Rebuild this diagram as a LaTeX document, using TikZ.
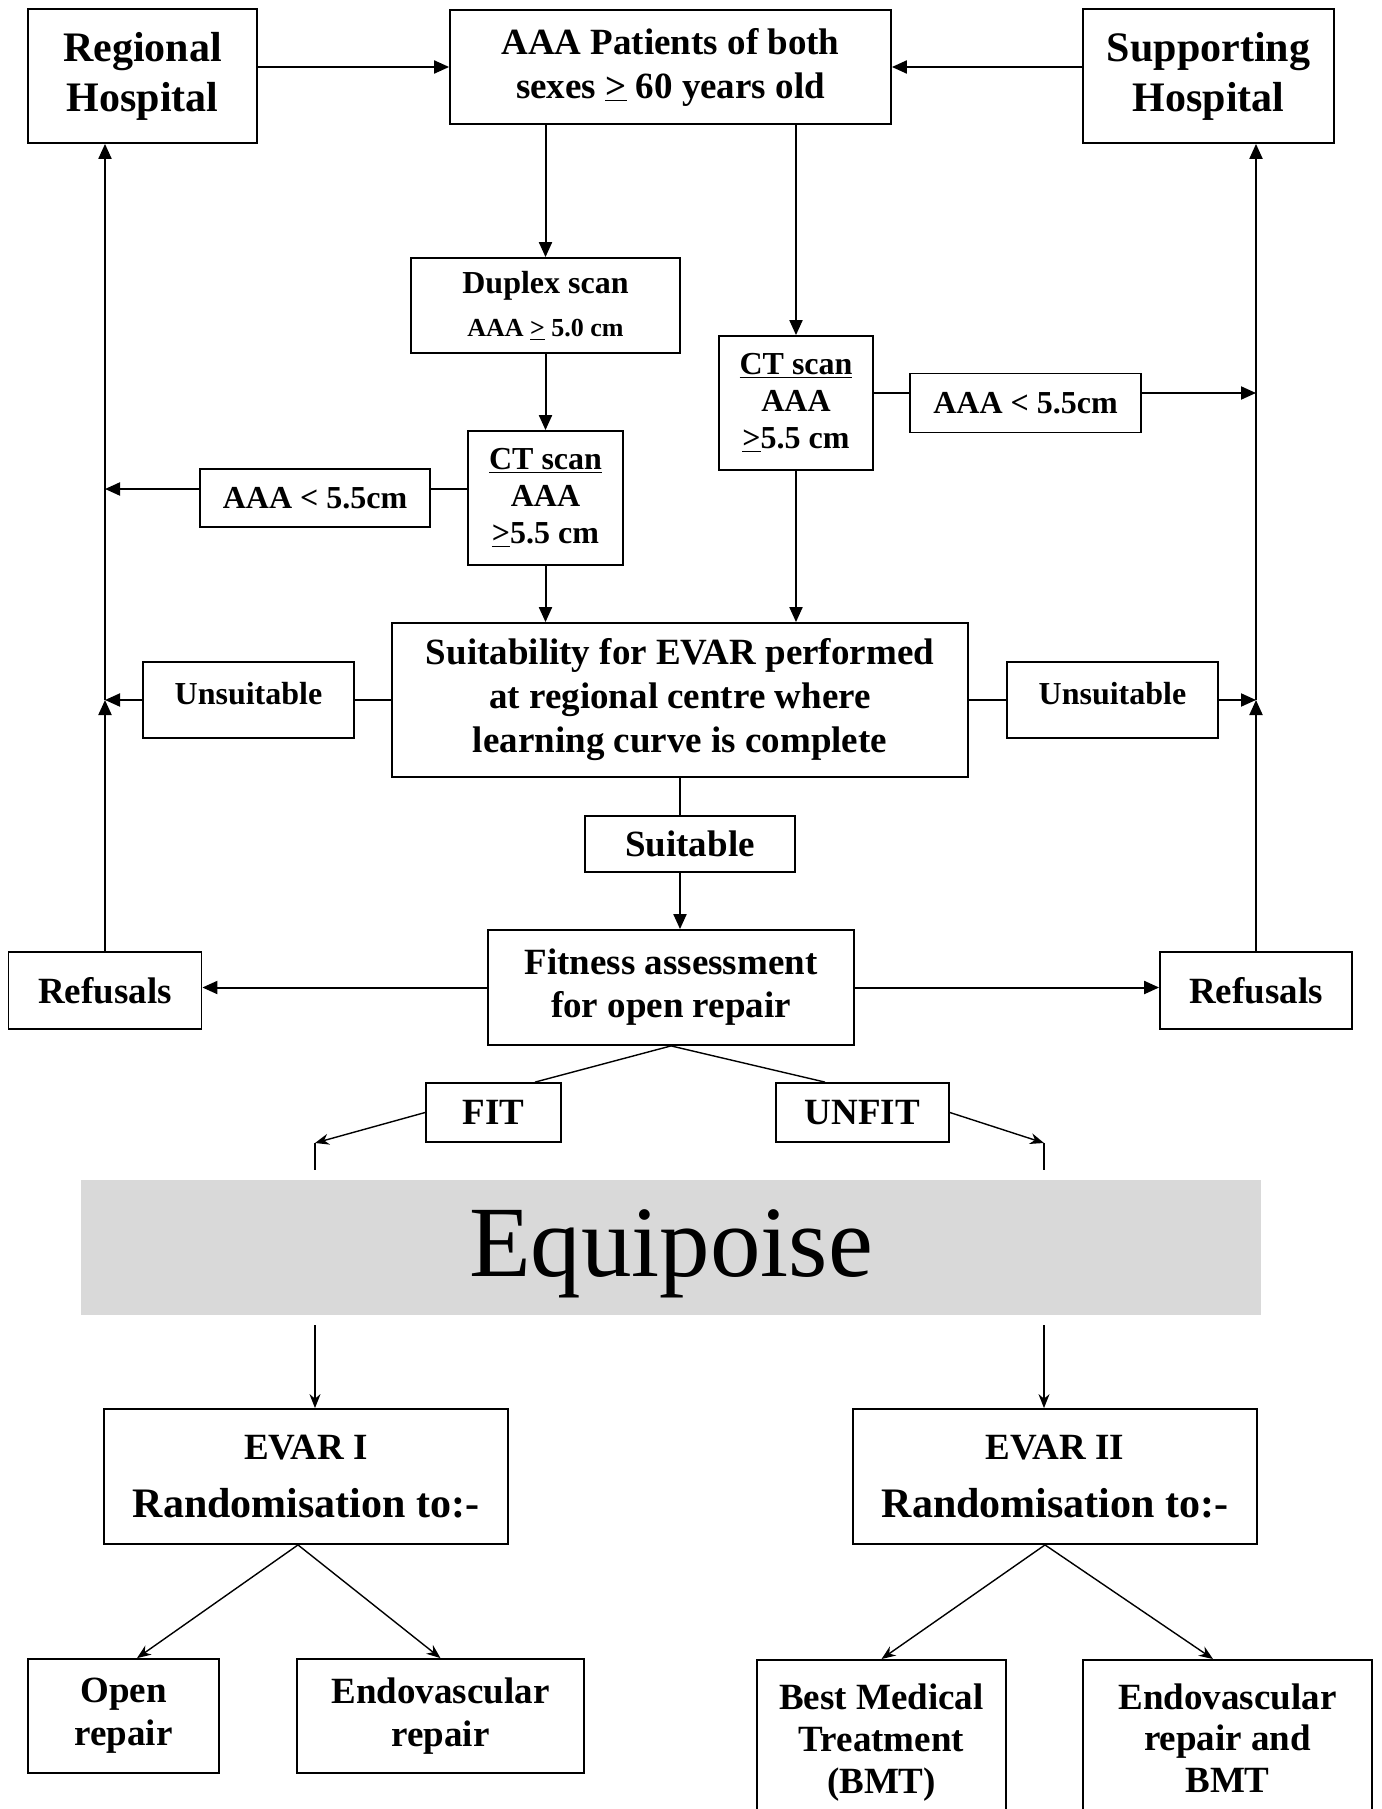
\documentclass[tikz,border=0pt]{standalone}
\usepackage{fontspec}
\setmainfont{Liberation Serif}
\usepackage{tikz}
\usetikzlibrary{arrows.meta,positioning}

\begin{document}
\begin{tikzpicture}[x=0.5pt, y=-0.5pt,
  box/.style={rectangle, draw, line width=0.9pt, align=center, inner sep=2pt,
    font=\bfseries\fontsize{18.5}{22}\selectfont},
  tag/.style={box, font=\bfseries\fontsize{16}{18.5}\selectfont},
  big/.style={box, font=\bfseries\fontsize{21}{25}\selectfont},
  lowline/.style={line width=0.7pt, >={Stealth[length=7pt,width=5.5pt]}},
  ->, >={Triangle[length=7.5pt,width=6.5pt]}, line width=1pt
]
  \useasboundingbox (0,0) rectangle (1381,1809);
  \clip (0,0) rectangle (1381,1809);

  % Entry
  \node[big, minimum width=114.5pt, minimum height=67pt] (reg) at (142.5,76) {Regional\\Hospital};
  \node[box, minimum width=220.5pt, minimum height=57pt] (pat) at (670.5,67) {AAA Patients of both\\sexes \underline{>} 60 years old};
  \node[big, minimum width=125.5pt, minimum height=67pt] (sup) at (1208.5,76) {Supporting\\Hospital};

  % Scans
  \node[box, font=\bfseries\fontsize{16}{21.5}\selectfont, minimum width=134.5pt, minimum height=47.5pt]
    (duplex) at (545.5,305.5) {Duplex scan\\{\fontsize{13}{21.5}\selectfont AAA \underline{>} 5.0 cm}};
  \node[tag, minimum width=77.5pt, minimum height=67pt] (ctl) at (545.5,498) {\underline{CT scan}\\AAA\\\underline{>}5.5 cm};
  \node[tag, minimum width=115pt, minimum height=29pt] (ltl) at (315,498) {AAA < 5.5cm};
  \node[tag, minimum width=77pt, minimum height=67pt] (ctr) at (796,403) {\underline{CT scan}\\AAA\\\underline{>}5.5 cm};
  \node[tag, minimum width=115.5pt, minimum height=29.5pt] (rtl) at (1025.5,403) {AAA < 5.5cm};

  % Suitability
  \node[box, minimum width=288pt, minimum height=77pt] (suit) at (680,700)
    {Suitability for EVAR performed\\at regional centre where\\learning curve is complete};
  \node[tag, minimum width=105.5pt, minimum height=38pt, text depth=7pt] (unl) at (248.5,700) {Unsuitable};
  \node[tag, minimum width=105.5pt, minimum height=38pt, text depth=7pt] (unr) at (1112.5,700) {Unsuitable};
  \node[box, minimum width=105pt, minimum height=28pt] (stbl) at (690,844) {Suitable};

  % Fitness
  \node[box, font=\bfseries\fontsize{18.5}{21.5}\selectfont, minimum width=183pt, minimum height=57.5pt]
    (fa) at (671,987.5) {Fitness assessment\\for open repair};
  \node[box, minimum width=96.5pt, minimum height=38.5pt] (refl) at (105,990.5) {Refusals};
  \node[box, minimum width=96pt, minimum height=38.5pt] (refr) at (1256,990.5) {Refusals};
  \node[box, minimum width=67.5pt, minimum height=29.5pt] (fit) at (493.5,1112.5) {FIT};
  \node[box, minimum width=86.5pt, minimum height=29.5pt] (unfit) at (862.5,1112.5) {UNFIT};

  \node[fill=black!15, minimum width=590pt, minimum height=67.5pt, text height=40pt,
    font=\fontsize{50.5}{60}\selectfont] (eq) at (671,1247.5) {Equipoise};

  % Trials
  \node[box, font=\bfseries\fontsize{21}{29}\selectfont, minimum width=202pt, minimum height=67.5pt]
    (evar1) at (306,1476.5) {{\fontsize{18.5}{29}\selectfont EVAR I}\\Randomisation to:-};
  \node[box, font=\bfseries\fontsize{21}{29}\selectfont, minimum width=202pt, minimum height=67.5pt]
    (evar2) at (1055,1476.5) {{\fontsize{18.5}{29}\selectfont EVAR II}\\Randomisation to:-};
  \node[box, font=\bfseries\fontsize{18.5}{21.5}\selectfont, minimum width=95.5pt, minimum height=57pt]
    (open) at (123.5,1716) {Open\\repair};
  \node[box, font=\bfseries\fontsize{18.5}{21.5}\selectfont, minimum width=143.5pt, minimum height=57pt]
    (endo) at (440.5,1716) {Endovascular\\repair};
  \node[box, font=\bfseries\fontsize{18.5}{21}\selectfont, anchor=north, inner ysep=11.75pt, minimum width=124.5pt]
    (bmt) at (881.5,1659) {Best Medical\\Treatment\\(BMT)};
  \node[box, font=\bfseries\fontsize{18.5}{20.75}\selectfont, anchor=north, inner ysep=11.75pt, minimum width=144.5pt]
    (endob) at (1227.5,1659) {Endovascular\\repair and\\BMT};

  % top connectors
  \draw (reg.east |- pat.west) -- (pat.west);
  \draw (sup.west |- pat.east) -- (pat.east);
  \draw (pat.south -| duplex.north) -- (duplex.north);
  \draw (pat.south -| ctr.north) -- (ctr.north);
  \draw (duplex) -- (ctl);
  \draw (ctl) -- (ctl |- suit.north);
  \draw (ctr) -- (ctr |- suit.north);

  % back to the hospitals
  \coordinate (lmeet) at (refl.north |- unl.west);
  \coordinate (rmeet) at (refr.north |- unr.east);
  \draw[-] ([yshift=4.5pt]ctl.west) -- ([yshift=4.5pt]ltl.east);
  \draw ([yshift=4.5pt]ltl.west) -- ([yshift=4.5pt]ltl.west -| refl.north);
  \draw[-] ([yshift=5pt]ctr.east) -- ([yshift=5pt]rtl.west);
  \draw ([yshift=5pt]rtl.east) -- ([yshift=5pt]rtl.east -| refr.north);
  \draw[-] (suit.west) -- (unl.east);
  \draw (unl.west) -- (lmeet);
  \draw[-] (suit.east) -- (unr.west);
  \draw (unr.east) -- (rmeet);
  \draw (refl.north) -- (lmeet);
  \draw (lmeet) -- (lmeet |- reg.south);
  \draw (refr.north) -- (rmeet);
  \draw (rmeet) -- (rmeet |- sup.south);

  \draw[-] (suit.south) -- (suit.south |- stbl.north);
  \draw (stbl.south -| suit.south) -- (suit.south |- fa.north);
  \draw (fa.west) -- (fa.west -| refl.east);
  \draw (fa.east) -- (fa.east -| refr.west);

  % Fit / unfit
  \coordinate (fitend) at (315,1143);
  \coordinate (fitstub) at (315,1170);
  \coordinate (fitlow) at (315,1325);
  \coordinate (unfitend) at (1044,1143);
  \coordinate (unfitstub) at (1044,1170);
  \coordinate (unfitlow) at (1044,1325);
  \draw[-, lowline] (fa.south) -- ([xshift=20.75pt]fit.north);
  \draw[-, lowline] (fa.south) -- ([xshift=-18.75pt]unfit.north);
  \draw[lowline] (fit.west) -- (fitend);
  \draw[lowline] (unfit.east) -- (unfitend);
  \draw[-, lowline] (fitend) -- (fitstub);
  \draw[-, lowline] (unfitend) -- (unfitstub);
  \draw[lowline] (fitlow) -- (fitlow |- evar1.north);
  \draw[lowline] (unfitlow) -- (unfitlow |- evar2.north);

  \draw[lowline] ([xshift=-4pt]evar1.south) -- ([xshift=6.75pt]open.north);
  \draw[lowline] ([xshift=-4pt]evar1.south) -- (endo.north);
  \draw[lowline] ([xshift=-5pt]evar2.south) -- (bmt.north);
  \draw[lowline] ([xshift=-5pt]evar2.south) -- ([xshift=-7.25pt]endob.north);
\end{tikzpicture}
\end{document}
